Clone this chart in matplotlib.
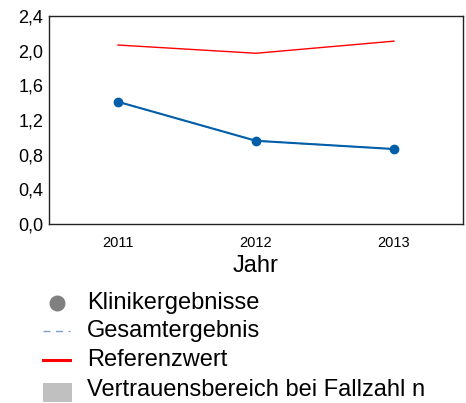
import matplotlib
matplotlib.use("Agg")
import matplotlib.pyplot as plt
from matplotlib.lines import Line2D
from matplotlib.patches import Rectangle

plt.rcParams['font.family'] = ['Liberation Sans', 'DejaVu Sans']

years = [2011, 2012, 2013]
klinik = [1.41, 0.96, 0.865]
gesamt = [1.41, 0.96, 0.865]
referenz = [2.065, 1.97, 2.11]
yticks = [0.0, 0.4, 0.8, 1.2, 1.6, 2.0, 2.4]
ytick_labels = ["0,0", "0,4", "0,8", "1,2", "1,6", "2,0", "2,4"]
legend_labels = ["Klinikergebnisse", "Gesamtergebnis", "Referenzwert",
                 "Vertrauensbereich bei Fallzahl n"]

W, H = 466, 403
fig = plt.figure(figsize=(W/100, H/100), dpi=100)
ax = fig.add_axes([49/W, 1-224/H, 414/W, 208/H])

ax.plot(years, referenz, color='#ff0000', lw=1.0)
ax.plot(years, gesamt, color='#7f9fc8', lw=1.0, ls=(0, (5, 4)))
ax.plot(years, klinik, color='#005fa8', lw=1.5, marker='o', ms=6)

ax.set_xlim(2010.5, 2013.5)
ax.set_ylim(0, 2.4)
ax.set_xticks(years)
ax.set_xticklabels([str(y) for y in years], fontsize=10.5)
ax.set_yticks(yticks)
ax.set_yticklabels(ytick_labels, fontsize=13)
ax.tick_params(length=0)
ax.tick_params(axis='y', pad=4)
ax.tick_params(axis='x', pad=8.5)
for s in ax.spines.values():
    s.set_color('#222222')
    s.set_linewidth(1.0)
ax.set_xlabel("Jahr", fontsize=17, labelpad=4)

# manual legend in figure pixel coordinates
def fx(px):
    return px / W
def fy(py):
    return 1 - py / H

rows = [303, 331, 360, 390]
fig.add_artist(Line2D([fx(57)], [fy(rows[0])], marker='o', color='#808080', ms=10.5, ls='none'))
fig.add_artist(Line2D([fx(43), fx(70)], [fy(rows[1])]*2, color='#7f9fc8', lw=1.0, ls=(0, (5, 4))))
fig.add_artist(Line2D([fx(43), fx(70)], [fy(rows[2])]*2, color='#ff0000', lw=2.2))
fig.add_artist(Rectangle((fx(43), fy(402)), fx(72)-fx(43), (402-383)/H, color='#c0c0c0', lw=0))
for r, lab in zip(rows, legend_labels):
    fig.text(fx(87), fy(r), lab, fontsize=17, va='center', ha='left')

fig.savefig("out.png", dpi=100)
